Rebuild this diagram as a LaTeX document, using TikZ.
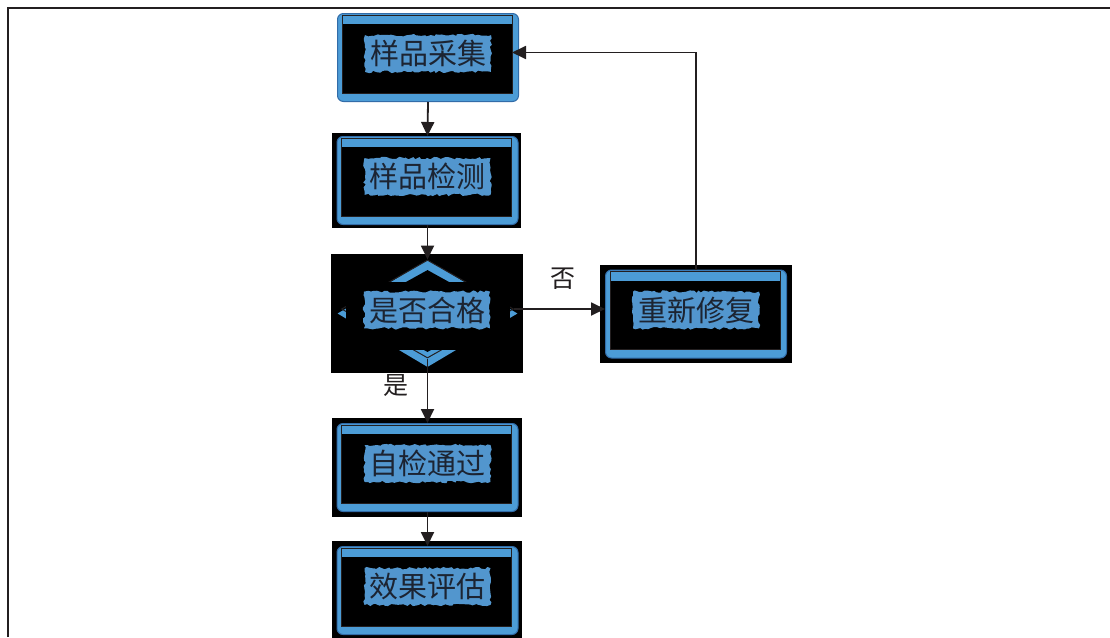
\documentclass[tikz,border=0pt]{standalone}
\usepackage{fontspec}
\usetikzlibrary{arrows.meta,shapes.geometric,calc,decorations.pathmorphing}
\newfontfamily\cjk{Noto Sans CJK SC}

\definecolor{frameblue}{RGB}{76,156,214}
\definecolor{frameedge}{RGB}{50,108,168}
\definecolor{glowblue}{RGB}{82,150,206}
\definecolor{inkdark}{RGB}{35,31,32}
\definecolor{textdark}{RGB}{28,36,50}

\tikzset{
  bluebox/.style={rectangle, fill=frameblue, draw=frameedge, line width=1pt,
    rounded corners=6pt, minimum width=181pt, minimum height=88pt, inner sep=0pt},
  blackbg/.style={rectangle, fill=black, minimum width=190pt, minimum height=97pt, inner sep=0pt},
  % dark lettering on a ragged blue patch
  boxtext/.style={font=\cjk\fontsize{29pt}{31pt}\selectfont, text=textdark,
    fill=glowblue, inner xsep=5pt, inner ysep=5pt,
    decorate, decoration={random steps, segment length=3pt, amplitude=1.3pt}},
  labeltext/.style={font=\cjk\fontsize{25pt}{27pt}\selectfont, text=inkdark, inner sep=0pt},
  arr/.style={draw=inkdark, line width=1.8pt, -{Triangle[length=14pt,width=13pt]}},
}

% a framed step: name, centre, text
\newcommand\stepframe[3]{%
  \node[bluebox] (#1) at (#2) {};
  \fill[black] ([xshift=5pt,yshift=-11pt]#1.north west) rectangle ([xshift=-7pt,yshift=9pt]#1.south east);
  \draw[inkdark, line width=0.9pt] ([xshift=5pt,yshift=-2pt]#1.north west) rectangle ([xshift=-7pt,yshift=9pt]#1.south east);
  \node[boxtext] (#1-text) at ([yshift=4pt]#1.center) {#3};
}

\begin{document}
\begin{tikzpicture}[x=1pt,y=1pt]
  \useasboundingbox (0,0) rectangle (1110,-637);
  \fill[white] (0,0) rectangle (1110,-637);

  % page frame (open at right and bottom)
  \draw[inkdark, line width=2pt] (8,-637) -- (8,-8) -- (1110,-8);

  % black backings
  \node[blackbg, minimum width=189pt, minimum height=95pt] (check-bg) at (426.5,-180.5) {};
  \node[blackbg, minimum width=192pt, minimum height=98pt] (repair-bg) at (696,-314) {};
  \node[blackbg, minimum width=190pt, minimum height=99pt] (pass-bg) at (427,-467.5) {};
  \node[blackbg, minimum width=190pt, minimum height=98pt] (eval-bg) at (427,-590) {};
  \node[blackbg, minimum width=192pt, minimum height=119pt] (dec-bg) at (427,-313.5) {};

  % steps
  \stepframe{collect}{428,-57.5}{样品采集}
  \stepframe{check}{427.5,-180.5}{样品检测}
  \stepframe{repair}{696,-314}{重新修复}
  \stepframe{pass}{427.5,-467.5}{自检通过}
  \stepframe{eval}{427.5,-590.5}{效果评估}

  % decision
  \node[diamond, minimum width=180pt, minimum height=107pt, fill=frameblue, inner sep=0pt] (dec-outer) at (427.5,-313.5) {};
  \node[diamond, minimum width=148pt, minimum height=82pt, fill=black, inner sep=0pt] (dec-inner) at (427.5,-311) {};
  \node[diamond, minimum width=172pt, minimum height=98pt, draw=inkdark, line width=1pt, inner sep=0pt] (dec) at (427.5,-309) {};
  \fill[black] (346,-282) rectangle (510,-350);
  \node[boxtext] (dec-text) at (427,-310) {是否合格};

  % connectors
  \draw[arr] (collect.south) -- (check.north);
  \draw[arr] (check.south) -- (dec.north);
  \draw[arr] (dec.south) -- (pass.north);
  \draw[arr] (pass.south) -- (eval.north);
  \draw[arr] (dec.east) -- (dec.east -| repair.west);
  \draw[arr] (repair.north) |- ([xshift=-7pt,yshift=5pt]collect.east);

  % branch labels
  \node[labeltext] (no) at (563,-279) {否};
  \node[labeltext] (yes) at (396,-386) {是};
\end{tikzpicture}
\end{document}
